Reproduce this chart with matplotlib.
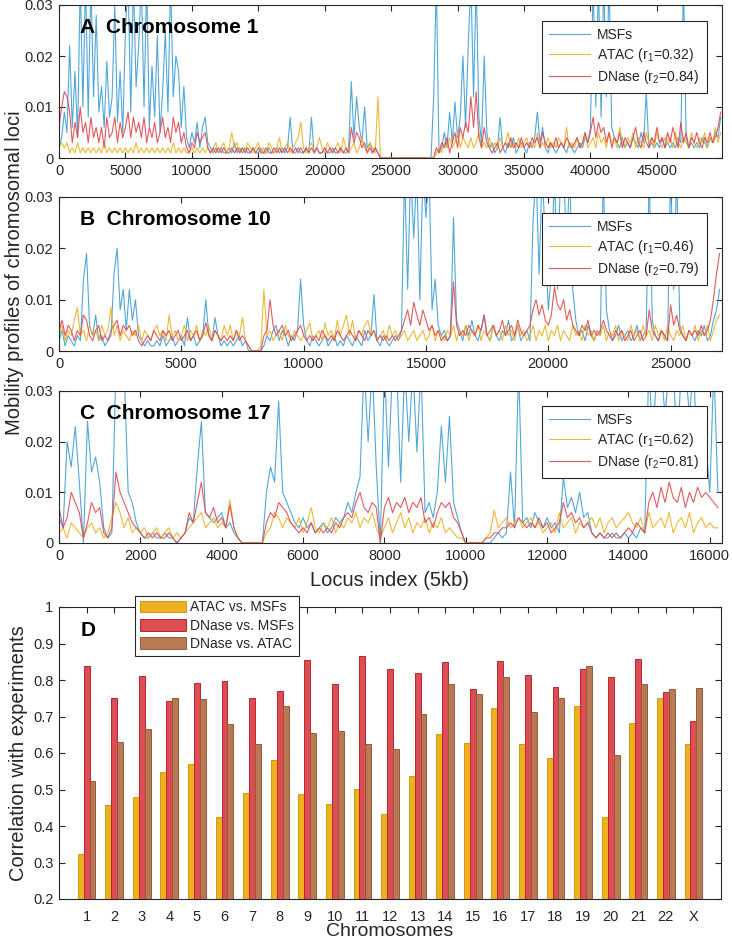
import numpy as np
import matplotlib
matplotlib.use("Agg")
import matplotlib.pyplot as plt

plt.rcParams['font.family'] = ['Liberation Sans', 'DejaVu Sans']
plt.rcParams['mathtext.fontset'] = 'custom'
plt.rcParams['mathtext.rm'] = 'Liberation Sans'
plt.rcParams['mathtext.it'] = 'Liberation Sans:italic'

# ---------------- data (profile values in units of 1e-3) ----------------
STEP_A = 200
MSF_A = [2, 4, 9, 5, 22, 6, 17, 4, 35, 10, 35, 8, 35, 12, 28, 9, 14, 6, 19, 8,
         12, 30, 7, 17, 5, 25, 35, 9, 35, 14, 22, 35, 10, 35, 6, 18, 8, 24, 5, 13,
         25, 9, 35, 12, 20, 17, 6, 14, 4, 2, 5, 3, 7, 2, 6, 8, 3, 2, 1, 2,
         1, 2, 1, 1, 2, 1, 3, 1, 2, 1, 2, 1, 1, 2, 1, 1, 2, 1, 1, 2,
         1, 1, 2, 1, 2, 1, 2, 8, 1, 1, 2, 1, 1, 2, 1, 8, 1, 2, 1, 1,
         2, 1, 1, 2, 1, 1, 2, 1, 1, 2, 15, 4, 12, 6, 3, 10, 2, 3, 1, 2,
         1, 0, 0, 0, 0, 0, 0, 0, 0, 0, 0, 0, 0, 0, 0, 0, 0, 0, 0, 0,
         0, 12, 35, 1, 2, 5, 2, 9, 3, 11, 4, 8, 20, 6, 22, 35, 12, 35, 8, 3,
         20, 5, 2, 3, 1, 2, 8, 2, 1, 3, 2, 4, 1, 2, 3, 2, 1, 3, 2, 4,
         9, 3, 6, 2, 1, 3, 2, 1, 2, 3, 2, 1, 3, 2, 1, 2, 3, 2, 4, 3,
         6, 35, 10, 35, 8, 35, 12, 35, 6, 4, 3, 2, 4, 2, 3, 2, 4, 3, 2, 5,
         3, 13, 2, 3, 2, 3, 2, 4, 2, 3, 2, 3, 2, 4, 3, 35, 4, 2, 3, 2,
         3, 2, 4, 3, 2, 4, 3, 5, 4, 8]
ATAC_A = [2, 3, 2, 3, 1, 2, 1, 3, 1, 2, 1, 2, 1, 2, 1, 2, 1, 3, 1, 2,
          1, 2, 1, 2, 1, 2, 1, 2, 1, 3, 1, 2, 1, 2, 1, 2, 1, 2, 1, 2,
          1, 2, 1, 3, 1, 2, 1, 2, 1, 1, 2, 1, 2, 1, 2, 1, 2, 1, 2, 3,
          1, 2, 3, 1, 2, 5, 2, 3, 1, 2, 1, 3, 2, 1, 2, 3, 1, 2, 1, 3,
          2, 1, 2, 4, 1, 2, 3, 1, 2, 3, 4, 7, 2, 1, 2, 3, 1, 2, 4, 2,
          1, 3, 2, 1, 2, 3, 1, 4, 2, 1, 2, 3, 1, 2, 4, 2, 1, 3, 2, 1,
          12, 0, 0, 0, 0, 0, 0, 0, 0, 0, 0, 0, 0, 0, 0, 0, 0, 0, 0, 0,
          0, 0, 1, 2, 1, 3, 2, 4, 2, 3, 5, 2, 4, 3, 2, 4, 2, 3, 5, 2,
          3, 2, 4, 2, 3, 2, 4, 2, 3, 5, 2, 3, 2, 4, 2, 3, 4, 2, 3, 2,
          5, 2, 3, 2, 4, 2, 3, 2, 4, 3, 2, 6, 2, 3, 2, 4, 2, 3, 5, 2,
          3, 4, 2, 5, 3, 4, 2, 5, 3, 4, 2, 6, 3, 2, 4, 3, 5, 2, 4, 3,
          2, 5, 3, 4, 2, 5, 3, 2, 4, 3, 4, 2, 5, 3, 2, 4, 3, 2, 5, 3,
          2, 4, 3, 5, 2, 4, 3, 6, 3, 5]
DNASE_A = [6, 10, 13, 12, 9, 3, 7, 4, 10, 5, 7, 3, 8, 4, 6, 3, 6, 2, 8, 4,
           5, 8, 3, 7, 4, 6, 9, 4, 8, 5, 7, 4, 8, 3, 6, 4, 7, 3, 5, 8,
           4, 6, 3, 8, 5, 7, 3, 5, 2, 1, 3, 2, 5, 3, 4, 5, 2, 1, 2, 1,
           2, 1, 2, 1, 1, 2, 1, 2, 1, 2, 1, 2, 1, 2, 1, 2, 1, 1, 2, 1,
           1, 2, 1, 2, 1, 2, 1, 2, 1, 2, 1, 2, 1, 2, 1, 2, 1, 2, 1, 1,
           2, 1, 2, 1, 2, 1, 2, 1, 2, 1, 6, 3, 5, 4, 2, 3, 1, 2, 1, 2,
           1, 0, 0, 0, 0, 0, 0, 0, 0, 0, 0, 0, 0, 0, 0, 0, 0, 0, 0, 0,
           0, 0, 2, 1, 3, 2, 4, 1, 3, 5, 2, 6, 4, 7, 5, 12, 6, 13, 4, 2,
           6, 3, 2, 1, 2, 3, 1, 2, 3, 2, 4, 2, 3, 2, 4, 2, 3, 2, 4, 3,
           4, 2, 5, 3, 2, 3, 2, 4, 2, 3, 2, 4, 3, 2, 3, 4, 2, 3, 5, 3,
           5, 8, 4, 7, 5, 6, 3, 5, 2, 4, 3, 5, 2, 4, 3, 2, 4, 6, 3, 2,
           5, 3, 2, 4, 3, 6, 3, 4, 2, 5, 3, 6, 4, 2, 7, 3, 5, 2, 4, 3,
           5, 3, 2, 4, 3, 5, 3, 4, 6, 9]

STEP_B = 125
MSF_B = [2, 4, 1, 3, 2, 1, 3, 2, 14, 19, 5, 3, 7, 2, 3, 1,
         2, 3, 15, 20, 8, 12, 4, 12, 6, 10, 3, 2, 1, 2, 1, 1,
         2, 1, 3, 1, 2, 3, 1, 2, 3, 1, 6.5, 2, 3, 1, 2, 3,
         10, 3, 2, 6.5, 3, 1, 2, 1, 2, 1, 2, 3, 1, 2, 0, 0,
         0, 0, 0, 1, 3, 2, 4, 5, 2, 4, 3, 1, 3, 2, 4, 14,
         5, 2, 1, 3, 2, 1, 2, 3, 1, 2, 3, 1, 2, 1, 3, 2,
         1, 3, 2, 1, 4, 2, 3, 11, 2, 1, 3, 2, 1, 2, 3, 2,
         4, 35, 12, 35, 22, 35, 10, 35, 26, 35, 8, 14, 5, 3, 4, 2,
         3, 26, 6, 4, 2, 5, 3, 6, 3, 2, 4, 7, 3, 2, 5, 3,
         2, 4, 3, 6, 2, 3, 5, 2, 3, 4, 2, 25, 35, 15, 35, 22,
         8, 15, 35, 12, 35, 35, 20, 35, 12, 6, 3, 4, 2, 5, 3, 2,
         4, 3, 35, 8, 4, 2, 3, 5, 2, 3, 4, 2, 3, 5, 2, 3,
         4, 35, 6, 3, 2, 4, 3, 2, 35, 12, 35, 5, 3, 2, 4, 3,
         2, 4, 3, 5, 2, 3, 6, 8, 12]
ATAC_B = [3, 5, 2, 4, 3, 6, 8.5, 3, 4, 2, 5, 3, 4, 2, 5, 3,
          4, 8.5, 3, 5, 2, 4, 3, 2, 4, 3, 5, 2, 4, 3, 2, 4,
          5, 3, 4, 2, 7, 3, 4, 2, 3, 5, 2, 4, 3, 5, 2, 4,
          3, 5, 2, 4, 3, 2, 5, 3, 5, 2, 4, 3, 6.5, 2, 1, 0,
          0, 0, 1, 12, 3, 4, 2, 3, 4, 2, 5, 3, 2, 4, 3, 2,
          3, 4, 5.5, 2, 3, 4, 2, 5.5, 3, 4, 2, 6, 3, 5, 7, 3,
          6, 2, 4, 3, 5, 6, 3, 4, 2, 3, 4, 2, 5, 3, 4, 2,
          3, 4, 2, 3, 4, 2, 3, 4, 2, 3, 5, 2, 4, 3, 2, 4,
          3, 5, 2, 4, 3, 5, 2, 4, 3, 5, 2, 4, 3, 2, 5, 3,
          4, 2, 5, 3, 4, 2, 5, 3, 4, 2, 3, 5, 2, 4, 3, 5,
          2, 4, 3, 5, 2, 4, 3, 2, 5, 3, 4, 2, 5, 3, 4, 2,
          4, 3, 5, 2, 4, 3, 5, 2, 4, 3, 2, 5, 3, 4, 2, 5,
          3, 4, 2, 5, 3, 4, 2, 5, 3, 2, 4, 3, 5, 2, 4, 3,
          5, 2, 4, 3, 5, 2, 4, 6, 7]
DNASE_B = [4, 6, 3, 5, 4, 2, 4, 3, 7, 6, 3, 2, 4, 5, 2, 3,
           2, 4, 5, 6, 3, 5, 4, 5, 3, 4, 2, 1, 2, 3, 2, 4,
           3, 2, 4, 3, 4, 2, 3, 4, 2, 3, 4, 2, 3, 4, 2, 3,
           5.5, 3, 2, 4, 3, 2, 3, 2, 3, 2, 4, 2, 3, 2, 1, 0,
           0, 0, 0, 3, 4, 10, 5, 3, 4, 5, 3, 4, 2, 3, 4, 5,
           3, 2, 3, 2, 3, 2, 4, 3, 2, 3, 2, 4, 3, 2, 3, 4,
           3, 2, 4, 3, 2, 4, 3, 4, 2, 3, 2, 3, 2, 3, 2, 3,
           4, 6, 8, 5, 9.5, 7, 5, 8, 6, 4, 5, 3, 4, 2, 3, 2,
           3, 13.5, 5, 3, 4, 3, 5, 4, 3, 5, 4, 7, 3, 4, 5, 3,
           4, 6, 3, 4, 5, 3, 6, 4, 3, 4, 5, 8, 10, 7, 9, 6,
           5, 7, 12.5, 9, 8, 10, 6, 8, 5, 4, 3, 5, 4, 6, 3, 4,
           3, 4, 6, 4, 3, 2, 4, 3, 4, 2, 3, 4, 2, 3, 4, 2,
           3, 8, 4, 3, 2, 4, 3, 2, 9, 5, 7, 4, 3, 2, 4, 3,
           4, 3, 5, 3, 4, 6, 10, 15, 19]

STEP_C = 100
MSF_C = [5, 3, 20, 15, 23, 12, 0, 24, 14, 17,
         12, 3, 1, 2, 35, 35, 35, 10, 8, 4,
         2, 1, 1, 2, 1, 1, 2, 1, 1, 0,
         1, 2, 5, 4, 15, 24, 6, 5, 4, 5,
         6, 3, 4, 2, 1, 0, 0, 0, 0, 0,
         0, 10, 15, 12, 28, 10, 8, 6, 4, 3,
         5, 3, 4, 2, 3, 4, 2, 3, 5, 4,
         5, 8, 6, 10, 13, 35, 20, 35, 15, 0,
         35, 15, 35, 35, 12, 35, 20, 35, 18, 35,
         6, 8, 5, 10, 23, 12, 25, 8, 5, 2,
         0, 0, 0, 0, 0, 0, 0, 1, 2, 1,
         2, 14, 3, 35, 4, 5, 3, 6, 4, 3,
         5, 3, 4, 2, 13, 7, 9, 6, 10, 5,
         6, 2, 1, 2, 1, 1, 2, 1, 1, 2,
         1, 2, 1, 3, 2, 35, 20, 35, 35, 25,
         35, 35, 18, 35, 35, 25, 35, 15, 25, 20,
         10, 35, 10]
ATAC_C = [2, 3, 1, 4, 3, 2, 1, 3, 4, 2,
          3, 1, 2, 5, 8, 6, 3, 5, 2, 3,
          2, 3, 1, 2, 3, 1, 2, 3, 1, 2,
          1, 2, 3, 4, 5, 6, 3, 4, 5, 3,
          4, 3, 8.5, 3, 1, 0, 0, 0, 0, 0,
          0, 2, 3, 6, 5, 3, 5, 4, 3, 5,
          2, 4, 7, 3, 2, 4, 3, 5, 2, 4,
          3, 5, 4, 6, 3, 5, 4, 6, 3, 1,
          3, 5, 2, 4, 6, 3, 5, 2, 4, 3,
          5, 2, 4, 3, 5, 2, 3, 2, 1, 1,
          0, 0, 0, 0, 0, 1, 2, 6.5, 3, 4,
          5, 3, 4, 5, 3, 4, 5, 3, 4, 2,
          3, 4, 2, 6, 3, 4, 5, 2, 4, 3,
          4, 5, 3, 5, 2, 4, 5, 3, 4, 5,
          6, 4, 3, 5, 2, 6, 3, 4, 5, 3,
          6, 2, 4, 5, 3, 6, 2, 4, 5, 3,
          4, 3, 3]
DNASE_C = [7, 3, 5, 10, 8, 6, 1, 4, 8, 6,
           7, 2, 1, 3, 14, 10, 8, 6, 4, 3,
           2, 1, 2, 1, 2, 1, 1, 2, 1, 0,
           1, 2, 6, 4, 8, 12, 6, 5, 7, 4,
           5, 3, 7.5, 3, 1, 0, 0, 0, 0, 0,
           0, 4, 6, 5, 8, 7, 6, 4, 3, 2,
           3, 2, 4, 2, 3, 2, 3, 2, 4, 3,
           5, 6, 5, 8, 10, 7, 6, 8, 7, 0,
           7, 9, 6, 8, 7, 9, 6, 8, 7, 9,
           4, 5, 3, 6, 8, 7, 8, 5, 4, 2,
           0, 0, 0, 0, 0, 1, 1, 2, 2, 3,
           3, 4, 3, 5, 4, 3, 4, 3, 5, 3,
           4, 2, 3, 4, 8, 5, 6, 4, 5, 3,
           4, 2, 1, 2, 1, 2, 1, 2, 1, 2,
           3, 2, 4, 3, 2, 8, 10, 7, 11, 8,
           12, 9, 8, 11, 7, 10, 8, 11, 9, 10,
           9, 8, 7]

panels = [
    dict(tag="A", name="Chromosome 1", step=STEP_A, msf=MSF_A, atac=ATAC_A, dnase=DNASE_A,
         xmax=49900, xticks=list(range(0, 45001, 5000)), r1="0.32", r2="0.84", legtop=0.897),
    dict(tag="B", name="Chromosome 10", step=STEP_B, msf=MSF_B, atac=ATAC_B, dnase=DNASE_B,
         xmax=27100, xticks=list(range(0, 25001, 5000)), r1="0.46", r2="0.79", legtop=0.898),
    dict(tag="C", name="Chromosome 17", step=STEP_C, msf=MSF_C, atac=ATAC_C, dnase=DNASE_C,
         xmax=16300, xticks=list(range(0, 16001, 2000)), r1="0.62", r2="0.81", legtop=0.901),
]

chromosomes = [str(i) for i in range(1, 23)] + ["X"]
atac_vs_msf = [0.323, 0.458, 0.480, 0.548, 0.570, 0.426, 0.491, 0.581, 0.489, 0.461, 0.501,
               0.433, 0.537, 0.652, 0.628, 0.723, 0.625, 0.587, 0.729, 0.426, 0.681, 0.750, 0.624]
dnase_vs_msf = [0.839, 0.750, 0.812, 0.743, 0.793, 0.798, 0.750, 0.770, 0.854, 0.788, 0.865,
                0.829, 0.819, 0.849, 0.775, 0.851, 0.814, 0.781, 0.830, 0.807, 0.858, 0.766, 0.687]
dnase_vs_atac = [0.523, 0.629, 0.666, 0.752, 0.747, 0.679, 0.626, 0.728, 0.654, 0.660, 0.625,
                 0.610, 0.706, 0.790, 0.762, 0.808, 0.713, 0.752, 0.839, 0.594, 0.788, 0.774, 0.778]

# ---------------- styling ----------------
C_MSF = '#3E9ED6'
C_ATAC = '#EDB120'
C_DNASE = '#E2474E'
TXT = '#262626'

W, H = 732, 944
fig = plt.figure(figsize=(W / 100, H / 100), dpi=100)

def fbox(l, t, r, b):
    return [l / W, 1 - b / H, (r - l) / W, (b - t) / H]

boxes = [(59, 5, 722, 158), (59, 197, 722, 351), (59, 391, 722, 543)]

def style(ax):
    ax.tick_params(direction='in', top=True, right=True, length=4, width=0.8,
                   labelsize=10.5, colors=TXT, pad=4)
    for s in ax.spines.values():
        s.set_color(TXT)
        s.set_linewidth(0.8)

for p, bx in zip(panels, boxes):
    ax = fig.add_axes(fbox(*bx))
    n = len(p['msf'])
    x = np.arange(n) * p['step']
    ax.plot(x, np.array(p['msf']) * 1e-3, color=C_MSF, lw=0.8, alpha=0.9, label='MSFs')
    ax.plot(x, np.array(p['atac']) * 1e-3, color=C_ATAC, lw=0.8, alpha=0.9,
            label='ATAC ($\\mathregular{r_1}$=%s)' % p['r1'])
    ax.plot(x, np.array(p['dnase']) * 1e-3, color=C_DNASE, lw=0.8, alpha=0.9,
            label='DNase ($\\mathregular{r_2}$=%s)' % p['r2'])
    ax.set_xlim(0, p['xmax'])
    ax.set_ylim(0, 0.03)
    ax.set_xticks(p['xticks'])
    ax.set_xticklabels([str(v) for v in p['xticks']])
    ax.set_yticks([0, 0.01, 0.02, 0.03])
    ax.set_yticklabels(['0', '0.01', '0.02', '0.03'])
    style(ax)
    ax.text(0.032, 0.855, p['tag'] + '  ' + p['name'], transform=ax.transAxes,
            fontsize=15, fontweight='bold', va='center', ha='left', color='black')
    leg = ax.legend(loc='upper left', bbox_to_anchor=(0.728, p['legtop']), borderaxespad=0,
                    fontsize=10, frameon=True, fancybox=False, edgecolor=TXT, framealpha=1,
                    handlelength=3.0, handletextpad=0.5, labelspacing=0.3, borderpad=0.5)
    leg.get_frame().set_linewidth(0.8)
    for t in leg.get_texts():
        t.set_color(TXT)

fig.text(390 / W, 1 - 581 / H, 'Locus index (5kb)', fontsize=14.5, ha='center', va='center', color=TXT)
fig.text(15 / W, 1 - 273 / H, 'Mobility profiles of chromosomal loci', fontsize=14.5,
         rotation=90, ha='center', va='center', color=TXT)

# ---------------- bar panel ----------------
axd = fig.add_axes(fbox(59, 607, 721, 899))
pos = np.arange(1, len(chromosomes) + 1)
bw = 0.215
axd.bar(pos - bw, atac_vs_msf, width=bw, color='#EDB120', edgecolor='#D39A10', lw=0.7,
        label='ATAC vs. MSFs', zorder=2)
axd.bar(pos, dnase_vs_msf, width=bw, color='#DC4E54', edgecolor='#B8262C', lw=0.7,
        label='DNase vs. MSFs', zorder=2)
axd.bar(pos + bw, dnase_vs_atac, width=bw, color='#B97955', edgecolor='#98593A', lw=0.7,
        label='DNase vs. ATAC', zorder=2)
axd.set_xlim(0, 24)
axd.set_ylim(0.2, 1.0)
axd.set_xticks(pos)
axd.set_xticklabels(chromosomes)
yt = [0.2, 0.3, 0.4, 0.5, 0.6, 0.7, 0.8, 0.9, 1.0]
axd.set_yticks(yt)
axd.set_yticklabels(['0.2', '0.3', '0.4', '0.5', '0.6', '0.7', '0.8', '0.9', '1'])
style(axd)
axd.tick_params(axis='x', pad=8)
axd.text(0.032, 0.92, 'D', transform=axd.transAxes, fontsize=15, fontweight='bold',
         va='center', ha='left', color='black')
legd = axd.legend(loc='upper left', bbox_to_anchor=(0.115, 1.039), borderaxespad=0,
                  fontsize=10, frameon=True, fancybox=False, edgecolor=TXT, framealpha=1,
                  handlelength=3.3, handleheight=0.9, handletextpad=0.3,
                  labelspacing=0.3, borderpad=0.35)
legd.get_frame().set_linewidth(0.8)
legd.set_zorder(5)
for t in legd.get_texts():
    t.set_color(TXT)
fig.text(390 / W, 1 - 932 / H, 'Chromosomes', fontsize=14, ha='center', va='center', color=TXT)
axd.set_ylabel('Correlation with experiments', fontsize=14.5, color=TXT, labelpad=4)

fig.savefig('out.png', dpi=100)
